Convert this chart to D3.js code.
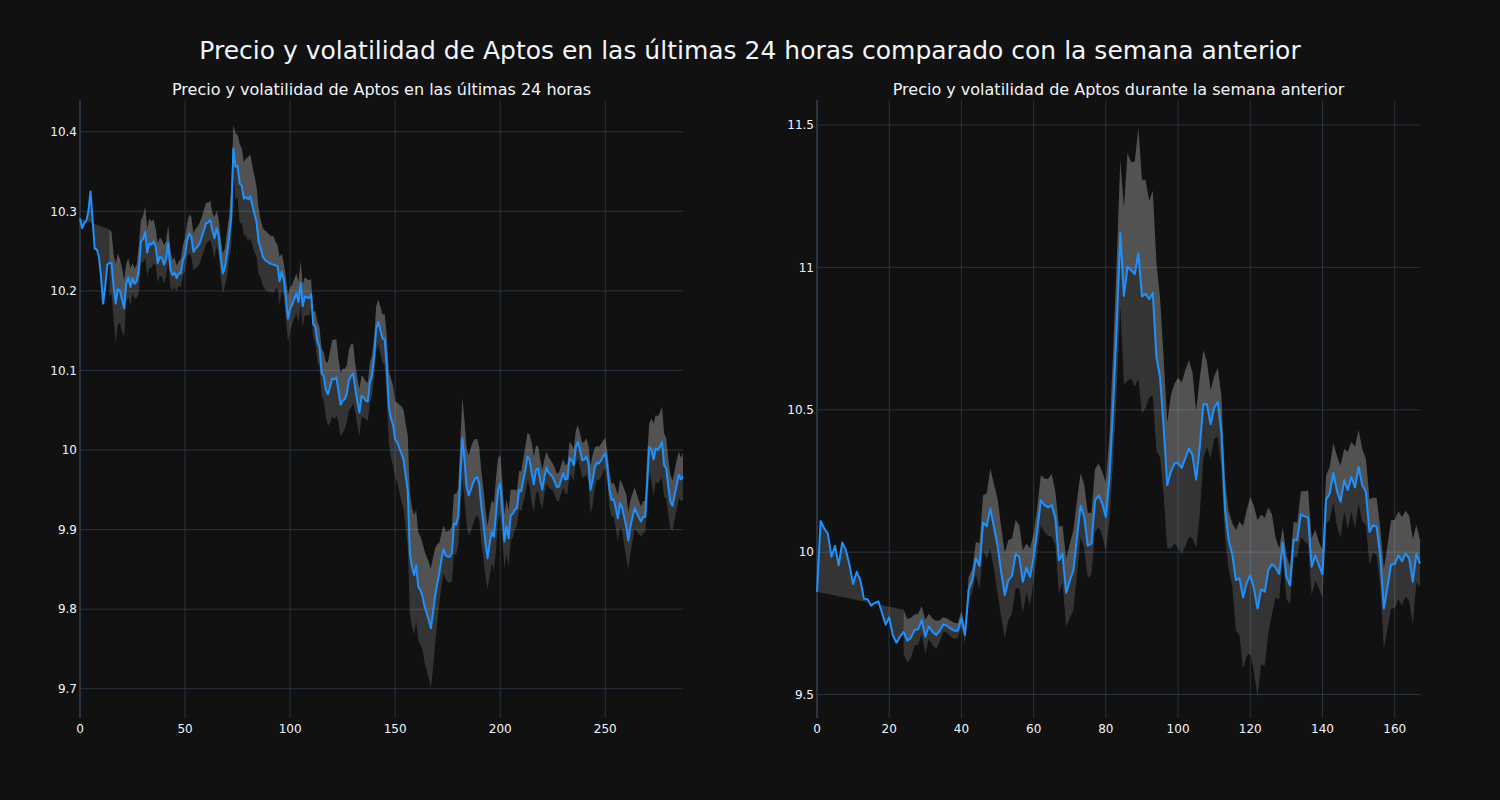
<!DOCTYPE html>
<html>
<head>
<meta charset="utf-8">
<script src="https://cdn.jsdelivr.net/npm/d3@7"></script>
<style>
  html, body { margin: 0; padding: 0; background: #111111; }
  svg { display: block; }
  text { font-family: "DejaVu Sans", sans-serif; fill: #f2f5fa; }
</style>
</head>
<body>
<svg id="chart" width="1500" height="800"></svg>
<script>
// ---------- DATA ----------
const mainTitle = "Precio y volatilidad de Aptos en las últimas 24 horas comparado con la semana anterior";
const leftTitle = "Precio y volatilidad de Aptos en las últimas 24 horas";
const rightTitle = "Precio y volatilidad de Aptos durante la semana anterior";

// last 24 hours (5-minute steps)
const leftPrice = [
10.291,10.279,10.285,10.288,10.300,10.325,10.289,10.253,10.252,10.243,
10.218,10.184,10.205,10.233,10.235,10.235,10.205,10.184,10.202,10.200,
10.189,10.178,10.209,10.217,10.205,10.216,10.209,10.212,10.226,10.262,
10.265,10.274,10.248,10.260,10.258,10.262,10.256,10.235,10.243,10.241,
10.233,10.241,10.260,10.228,10.220,10.223,10.216,10.222,10.222,10.239,
10.245,10.264,10.272,10.268,10.249,10.253,10.256,10.260,10.268,10.276,
10.285,10.286,10.289,10.276,10.266,10.279,10.268,10.241,10.222,10.230,
10.247,10.268,10.293,10.379,10.356,10.357,10.335,10.332,10.316,10.318,
10.315,10.319,10.308,10.297,10.287,10.262,10.253,10.243,10.239,10.237,
10.235,10.234,10.233,10.232,10.231,10.212,10.224,10.214,10.191,10.165,
10.177,10.183,10.190,10.197,10.186,10.210,10.181,10.193,10.192,10.191,
10.196,10.158,10.155,10.136,10.129,10.097,10.093,10.076,10.070,10.079,
10.090,10.089,10.091,10.075,10.057,10.062,10.064,10.071,10.088,10.093,
10.096,10.078,10.061,10.047,10.068,10.066,10.062,10.061,10.085,10.094,
10.117,10.153,10.161,10.150,10.140,10.139,10.105,10.054,10.040,10.031,
10.013,10.010,10.002,9.995,9.988,9.968,9.948,9.870,9.853,9.843,
9.855,9.828,9.824,9.816,9.803,9.795,9.786,9.776,9.795,9.816,
9.832,9.845,9.862,9.875,9.868,9.866,9.866,9.870,9.908,9.906,
9.916,9.966,10.015,9.987,9.954,9.943,9.950,9.958,9.964,9.966,
9.958,9.929,9.908,9.883,9.864,9.883,9.897,9.891,9.920,9.950,
9.958,9.925,9.885,9.904,9.889,9.918,9.920,9.925,9.927,9.950,
9.948,9.962,9.975,9.992,9.987,9.971,9.957,9.975,9.977,9.962,
9.950,9.966,9.978,9.972,9.969,9.966,9.960,9.953,9.954,9.963,
9.971,9.963,9.964,9.990,9.987,9.981,10.004,10.010,10.000,9.987,
9.988,9.992,9.983,9.950,9.962,9.978,9.984,9.983,9.987,9.992,
9.996,9.979,9.950,9.937,9.938,9.927,9.914,9.933,9.928,9.916,
9.904,9.886,9.904,9.916,9.927,9.921,9.915,9.910,9.916,9.916,
9.962,10.004,10.000,9.988,10.002,10.000,10.004,10.010,9.981,9.977,
9.954,9.935,9.930,9.943,9.956,9.969,9.963,9.967
];
const leftVol = [
null,null,null,null,null,null,null,null,null,null,null,null,null,null,
.042,.039,.040,.050,.045,.040,.040,.035,.025,.024,.023,.019,.019,.021,.030,.027,
.029,.032,.030,.031,.029,.028,.023,.025,.024,.023,.024,.022,.023,.024,.019,.019,
.016,.015,.018,.019,.021,.021,.024,.025,.023,.025,.025,.026,.025,.026,.026,.024,
.025,.022,.027,.022,.022,.025,.025,.024,.029,.027,.038,.030,.042,.039,.050,.047,
.046,.048,.053,.053,.050,.048,.044,.042,.036,.036,.037,.037,.036,.035,.036,.030,
.027,.031,.023,.021,.026,.030,.027,.025,.025,.025,.026,.027,.027,.024,.023,.022,
.019,.015,.020,.025,.025,.030,.030,.035,.040,.045,.048,.050,.048,.040,.040,.040,
.038,.036,.038,.040,.038,.030,.030,.030,.026,.025,.024,.024,.025,.025,.025,.028,
.028,.030,.030,.032,.040,.045,.050,.050,.048,.050,.055,.060,.062,.065,.070,.075,
.075,.075,.070,.068,.068,.067,.070,.071,.073,.075,.070,.060,.050,.038,.033,.030,
.030,.032,.033,.035,.038,.038,.036,.044,.050,.050,.048,.050,.053,.052,.050,.048,
.046,.045,.044,.042,.040,.040,.040,.042,.045,.040,.036,.035,.034,.034,.035,.032,
.030,.025,.022,.024,.025,.028,.030,.030,.032,.038,.035,.030,.028,.027,.025,.022,
.020,.019,.018,.017,.017,.017,.018,.018,.018,.018,.019,.020,.020,.020,.021,.021,
.021,.022,.022,.023,.023,.030,.032,.025,.021,.021,.021,.020,.019,.020,.021,.021,
.021,.025,.029,.030,.030,.035,.040,.036,.033,.030,.026,.024,.021,.019,.020,.020,
.035,.030,.040,.045,.042,.042,.043,.044,.040,.038,.036,.034,.031,.031,.031,.029,
.027,.030
];

// previous week (hourly steps)
const rightPrice = [
9.861,10.110,10.083,10.065,9.984,10.022,9.954,10.034,10.007,9.955,
9.888,9.931,9.902,9.836,9.835,9.812,9.822,9.827,9.787,9.745,
9.771,9.708,9.682,9.703,9.720,9.689,9.699,9.726,9.729,9.761,
9.703,9.740,9.720,9.709,9.724,9.746,9.742,9.731,9.724,9.724,
9.767,9.709,9.867,9.902,9.978,9.951,10.103,10.091,10.153,10.089,
10.022,9.931,9.849,9.902,9.916,9.993,9.984,9.896,9.945,9.913,
9.984,10.077,10.182,10.165,10.157,10.165,10.120,9.972,9.993,9.857,
9.899,9.937,10.051,10.164,10.125,10.023,10.030,10.181,10.200,10.170,
10.123,10.264,10.510,10.790,11.120,10.900,11.002,10.990,10.976,11.050,
10.898,10.907,10.888,10.910,10.685,10.615,10.440,10.235,10.282,10.311,
10.313,10.296,10.329,10.364,10.340,10.255,10.370,10.519,10.519,10.449,
10.508,10.527,10.420,10.150,10.042,9.993,9.902,9.908,9.841,9.892,
9.919,9.872,9.802,9.869,9.861,9.937,9.958,9.946,9.923,10.033,
9.913,9.883,10.044,10.042,10.133,10.126,10.122,9.949,9.989,9.954,
9.923,10.185,10.206,10.278,10.215,10.177,10.253,10.218,10.264,10.227,
10.300,10.235,10.212,10.071,10.095,10.089,9.984,9.802,9.878,9.957,
9.958,9.989,9.968,9.995,9.978,9.896,9.995,9.960
];
const rightVol = [
null,null,null,null,null,null,null,null,null,null,null,null,
null,null,null,null,null,null,null,null,null,null,null,null,
.078,.076,.071,.055,.054,.050,.060,.044,.047,.050,.037,.025,.025,.028,.028,.026,
.025,.030,.045,.040,.058,.080,.097,.115,.140,.150,.166,.158,.150,.140,.132,.120,
.111,.110,.085,.100,.082,.080,.088,.094,.100,.110,.094,.117,.100,.120,.130,.140,
.130,.112,.112,.115,.108,.111,.111,.113,.120,.150,.190,.230,.257,.310,.400,.380,
.395,.440,.410,.400,.345,.360,.330,.280,.240,.220,.270,.280,.300,.300,.310,.310,
.290,.240,.240,.190,.150,.120,.110,.120,.130,.100,.100,.110,.175,.200,.250,.257,
.275,.290,.310,.263,.260,.220,.175,.105,.090,.055,.076,.067,.062,.060,.080,.088,
.095,.100,.090,.082,.085,.085,.094,.105,.123,.126,.110,.135,.123,.143,.129,.128,
.117,.114,.097,.100,.100,.140,.146,.155,.155,.155,.155,.150,.150,.150,.100,.082
];

const leftXTicks = [0, 50, 100, 150, 200, 250];
const leftYTicks = [9.7, 9.8, 9.9, 10, 10.1, 10.2, 10.3, 10.4];
const rightXTicks = [0, 20, 40, 60, 80, 100, 120, 140, 160];
const rightYTicks = [9.5, 10, 10.5, 11, 11.5];

// ---------- DRAW ----------
const svg = d3.select("#chart");
const GRID = "#283442";
const LINE = "#1e90ff";
const FILL = "rgba(255,255,255,0.15)";
const plotTop = 100, plotBottom = 718;

svg.append("rect").attr("width", 1500).attr("height", 800).attr("fill", "#111111");

svg.append("text")
  .attr("x", 750).attr("y", 59)
  .attr("text-anchor", "middle")
  .style("font-size", "25px")
  .text(mainTitle);

function panel(cfg) {
  const x = d3.scaleLinear().domain(cfg.xDomain).range([cfg.left, cfg.right]);
  const y = d3.scaleLinear().domain(cfg.yDomain).range([plotBottom, plotTop]);
  const g = svg.append("g");

  // grid
  g.append("g").selectAll("line").data(cfg.yTicks).join("line")
    .attr("x1", cfg.left).attr("x2", cfg.right)
    .attr("y1", d => y(d)).attr("y2", d => y(d))
    .attr("stroke", GRID).attr("stroke-width", 1);
  g.append("g").selectAll("line").data(cfg.xTicks).join("line")
    .attr("x1", d => x(d)).attr("x2", d => x(d))
    .attr("y1", plotTop).attr("y2", plotBottom)
    .attr("stroke", GRID).attr("stroke-width", d => d === 0 ? 2 : 1);

  // tick labels
  g.append("g").selectAll("text").data(cfg.yTicks).join("text")
    .attr("x", cfg.left - 3).attr("y", d => y(d))
    .attr("dy", "0.35em").attr("text-anchor", "end")
    .style("font-size", "12px")
    .text(d => String(d));
  g.append("g").selectAll("text").data(cfg.xTicks).join("text")
    .attr("x", d => x(d)).attr("y", plotBottom + 15)
    .attr("text-anchor", "middle")
    .style("font-size", "12px")
    .text(d => String(d));

  // subplot title
  g.append("text")
    .attr("x", (cfg.left + cfg.right) / 2).attr("y", 94.5)
    .attr("text-anchor", "middle")
    .style("font-size", "16px")
    .text(cfg.title);

  const pts = cfg.price.map((p, i) => ({ i, p, v: cfg.vol[i] }));
  const valid = pts.filter(d => d.v !== null);

  // band between lower and upper
  const area = d3.area()
    .x(d => x(d.i))
    .y0(d => y(d.p - d.v))
    .y1(d => y(d.p + d.v));
  g.append("path").datum(valid).attr("d", area).attr("fill", FILL);

  // fill between price and upper band (closes back to the first price point)
  const poly = pts.map(d => [x(d.i), y(d.p)])
    .concat(valid.slice().reverse().map(d => [x(d.i), y(d.p + d.v)]));
  g.append("path").attr("d", d3.line()(poly) + "Z").attr("fill", FILL);

  // price line
  const line = d3.line().x(d => x(d.i)).y(d => y(d.p));
  g.append("path").datum(pts).attr("d", line)
    .attr("fill", "none").attr("stroke", LINE).attr("stroke-width", 2)
    .attr("stroke-linejoin", "round");
}

panel({
  left: 80, right: 683,
  xDomain: [0, leftPrice.length - 1], yDomain: [9.6632, 10.4399],
  xTicks: leftXTicks, yTicks: leftYTicks,
  price: leftPrice, vol: leftVol, title: leftTitle
});
panel({
  left: 817, right: 1420,
  xDomain: [0, rightPrice.length - 1], yDomain: [9.4175, 11.588],
  xTicks: rightXTicks, yTicks: rightYTicks,
  price: rightPrice, vol: rightVol, title: rightTitle
});
</script>
</body>
</html>
